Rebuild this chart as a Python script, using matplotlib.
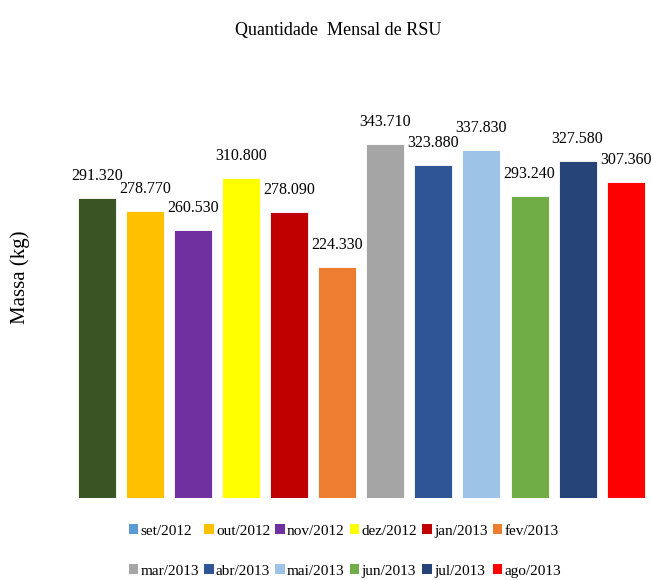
import matplotlib.pyplot as plt
from matplotlib.patches import Patch

plt.rcParams['font.family'] = ['Liberation Serif', 'DejaVu Serif']

months = ["set/2012", "out/2012", "nov/2012", "dez/2012", "jan/2013", "fev/2013",
          "mar/2013", "abr/2013", "mai/2013", "jun/2013", "jul/2013", "ago/2013"]
massa = [291320, 278770, 260530, 310800, 278090, 224330,
         343710, 323880, 337830, 293240, 327580, 307360]
bar_colors = ["#3A5424", "#FFC000", "#7030A0", "#FFFF00", "#C00000", "#ED7D31",
              "#A5A5A5", "#2F5597", "#9DC3E6", "#70AD47", "#264478", "#FF0000"]
# legend swatches as shown in the picture (first one differs from its bar)
legend_colors = ["#5B9BD5"] + bar_colors[1:]

fig = plt.figure(figsize=(6.51, 5.80), dpi=100)
ax = fig.add_axes([0.112, 0.1414, 0.886, 0.710])

x = range(len(months))
ax.bar(x, massa, width=0.79, color=bar_colors, edgecolor="white", linewidth=0.6)

for i, v in enumerate(massa):
    ax.annotate(f"{v:,}".replace(",", "."), (i, v), xytext=(0, 10),
                textcoords="offset points", ha="center", va="bottom", fontsize=11.5)

ax.set_xlim(-0.5, 11.5)
ax.set_ylim(0, 400000)
ax.set_xticks([])
ax.set_yticks([])
for s in ax.spines.values():
    s.set_visible(False)

fig.text(338 / 651, 1 - 30 / 580, "Quantidade  Mensal de RSU", ha="center", va="center", fontsize=13)
fig.text(20 / 651, 1 - 277 / 580, "Massa (kg)", rotation=90, ha="center", va="center", fontsize=15)

# legend fills row by row: reorder for matplotlib's column-major layout
order = [i + 6 * r for i in range(6) for r in range(2)]
handles = [Patch(facecolor=legend_colors[k], edgecolor="none") for k in order]
labels = [months[k] for k in order]
fig.legend(handles, labels, loc="center", bbox_to_anchor=(345 / 651, 1 - 551 / 580),
           ncol=6, frameon=False, fontsize=11, handlelength=0.6, handleheight=0.6,
           handletextpad=0.15, columnspacing=0.35, labelspacing=1.75)

fig.savefig("out.png", dpi=100)
